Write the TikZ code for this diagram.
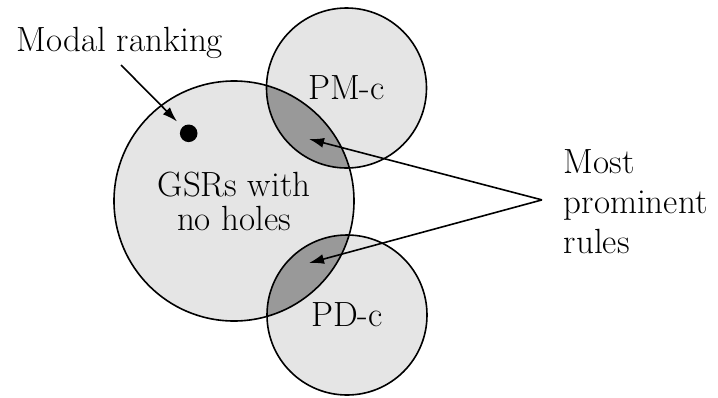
\documentclass[tikz,border=0pt]{standalone}
\usetikzlibrary{calc, arrows.meta}

\begin{document}
\begin{tikzpicture}[thick, >={Latex[length=7.5pt, width=5pt]}, x=0.5pt, y=-0.5pt,
        every node/.style={font=\fontsize{17.5}{17}\selectfont},
        set/.style={circle, fill=gray!20, inner sep=0pt, align=center}]
        \def\rbig{60pt}
        \def\rsmall{40pt}

        \useasboundingbox (0,0) rectangle (718,397);

        \node[set, minimum size=2*\rbig] (gsr) at (234,201) {GSRs with\\no holes};
        \node[set, minimum size=2*\rsmall] (pmc) at (346.5,88) {PM-c};
        \node[set, minimum size=2*\rsmall] (pdc) at (347,315) {PD-c};

        \begin{scope}
            \clip (gsr.center) circle (\rbig);
            \fill[black!40] (pmc.center) circle (\rsmall);
            \fill[black!40] (pdc.center) circle (\rsmall);
        \end{scope}

        \draw (gsr.center) circle (\rbig);
        \draw (pmc.center) circle (\rsmall);
        \draw (pdc.center) circle (\rsmall);

        \node[circle, fill, inner sep=0pt, minimum size=8.8pt] (dot) at (188.7,133.3) {};
        \node (modal) at (120,43) {Modal ranking};
        \coordinate (modaltail) at (121,65);
        \draw[->, shorten >=3.5pt] (modaltail) -- (dot);

        \node[align=left, anchor=north west, inner sep=0pt, font=\fontsize{17.5}{20}\selectfont] (rules) at (563,149) {Most\\prominent\\rules};
        \coordinate (fork) at ($(rules.west)+(-21,-2)$);
        \coordinate (lensU) at (309,139);
        \coordinate (lensD) at (309,263);
        \draw[->] (fork) -- (lensU);
        \draw[->] (fork) -- (lensD);
    \end{tikzpicture}
\end{document}
